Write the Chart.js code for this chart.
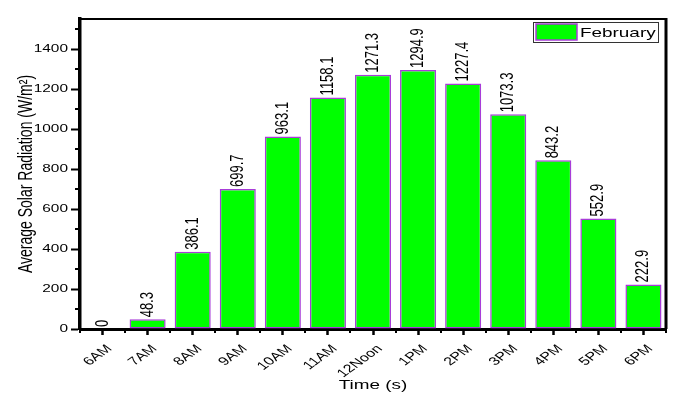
<!DOCTYPE html>
<html>
<head>
<meta charset="utf-8">
<script src="https://cdn.jsdelivr.net/npm/chart.js@4.4.0/dist/chart.umd.min.js"></script>
<style>
html, body { margin: 0; padding: 0; background: #fff; }
</style>
</head>
<body>
<canvas id="chart" width="677" height="399"></canvas>
<script>
// data
const hours = ['6AM', '7AM', '8AM', '9AM', '10AM', '11AM', '12Noon', '1PM', '2PM', '3PM', '4PM', '5PM', '6PM'];
const february = [0, 48.3, 386.1, 699.7, 963.1, 1158.1, 1271.3, 1294.9, 1227.4, 1073.3, 843.2, 552.9, 222.9];
const yTicks = [0, 200, 400, 600, 800, 1000, 1200, 1400];
const yMinorTicks = [100, 300, 500, 700, 900, 1100, 1300, 1500];
const seriesName = 'February';
const xTitle = 'Time (s)';
const yTitle = 'Average Solar Radiation (W/m²)';

const FONT = 'Arial, "Liberation Sans", sans-serif';
const FILL = '#00ff00';
const EDGE = '#a83cd8';
// the original figure is stretched sideways, text included
const SX = 1.4;

function stretchedText(ctx, text, x, y, angle, align, baseline, size) {
    ctx.save();
    ctx.translate(x, y);
    ctx.scale(SX, 1);
    ctx.rotate(angle);
    ctx.font = size + 'px ' + FONT;
    ctx.textAlign = align;
    ctx.textBaseline = baseline;
    ctx.fillStyle = '#000';
    ctx.fillText(text, 0, 0);
    ctx.restore();
}

// value labels standing on top of each bar
const barLabels = {
    id: 'barLabels',
    afterDatasetsDraw(chart) {
        const ctx = chart.ctx;
        const meta = chart.getDatasetMeta(0);
        meta.data.forEach((bar, i) => {
            const v = february[i];
            stretchedText(ctx, v === 0 ? '0' : v.toFixed(1), bar.x, bar.y - 2, -Math.PI / 2, 'left', 'middle', 13);
        });
    }
};

// axis labels, titles, top/right frame, minor ticks and the boxed legend
const frame = {
    id: 'frame',
    afterDraw(chart) {
        const ctx = chart.ctx;
        const a = chart.chartArea;
        const x = chart.scales.x;
        const y = chart.scales.y;

        yTicks.forEach(v => {
            stretchedText(ctx, String(v), a.left - 12, y.getPixelForValue(v), 0, 'right', 'middle', 11);
        });
        hours.forEach((h, i) => {
            stretchedText(ctx, h, x.getPixelForValue(i) + 7, a.bottom + 18, -Math.PI / 4, 'right', 'middle', 11.5);
        });
        stretchedText(ctx, xTitle, (a.left + a.right) / 2, 392, 0, 'center', 'bottom', 13.5);
        stretchedText(ctx, yTitle, 27, (a.top + a.bottom) / 2, -Math.PI / 2, 'center', 'middle', 14);

        ctx.save();
        ctx.strokeStyle = '#000';
        ctx.lineWidth = 2;
        ctx.beginPath();
        ctx.moveTo(a.left, a.top);
        ctx.lineTo(a.right, a.top);
        ctx.stroke();
        ctx.lineWidth = 3;
        ctx.beginPath();
        ctx.moveTo(a.right, a.top - 1);
        ctx.lineTo(a.right, a.bottom);
        ctx.stroke();

        // minor ticks
        ctx.lineWidth = 2;
        ctx.beginPath();
        yMinorTicks.forEach(v => {
            const py = Math.round(y.getPixelForValue(v));
            ctx.moveTo(a.left - 1, py);
            ctx.lineTo(a.left - 5, py);
        });
        for (let i = 0; i <= hours.length; i++) {
            const px = Math.round(x.getPixelForValue(i - 0.5));
            ctx.moveTo(px, a.bottom + 1);
            ctx.lineTo(px, a.bottom + 4);
        }
        ctx.stroke();

        // legend
        const bx = a.right - 133, by = a.top + 3, bw = 125, bh = 20;
        ctx.fillStyle = '#fff';
        ctx.fillRect(bx, by, bw, bh);
        ctx.strokeStyle = '#333';
        ctx.lineWidth = 1;
        ctx.strokeRect(bx + 0.5, by + 0.5, bw, bh);
        ctx.fillStyle = FILL;
        ctx.fillRect(bx + 3, by + 2, 41, 16);
        ctx.strokeStyle = EDGE;
        ctx.lineWidth = 1.5;
        ctx.strokeRect(bx + 3, by + 2, 41, 16);
        ctx.restore();
        stretchedText(ctx, seriesName, bx + 47, by + 11, 0, 'left', 'middle', 13.5);
    }
};

new Chart(document.getElementById('chart'), {
    type: 'bar',
    data: {
        labels: hours,
        datasets: [{
            label: seriesName,
            data: february,
            backgroundColor: FILL,
            borderColor: EDGE,
            borderWidth: 1.5,
            borderSkipped: false,
            barPercentage: 0.8,
            categoryPercentage: 1.0
        }]
    },
    options: {
        responsive: false,
        animation: false,
        layout: { padding: { top: 19, right: 11, left: 0, bottom: 0 } },
        plugins: {
            legend: { display: false },
            tooltip: { enabled: false }
        },
        scales: {
            x: {
                grid: {
                    offset: false,
                    drawOnChartArea: false,
                    tickLength: 6,
                    tickWidth: 2.5,
                    tickColor: '#000'
                },
                border: { color: '#000', width: 3 },
                ticks: { display: false },
                afterFit(s) { s.height = 70; }
            },
            y: {
                min: 0,
                max: 1550,
                afterBuildTicks(s) { s.ticks = yTicks.map(v => ({ value: v })); },
                grid: {
                    drawOnChartArea: false,
                    tickLength: 9,
                    tickWidth: 2,
                    tickColor: '#000'
                },
                border: { color: '#000', width: 3.5 },
                ticks: { display: false },
                afterFit(s) { s.width = 80; }
            }
        }
    },
    plugins: [barLabels, frame]
});
</script>
</body>
</html>
